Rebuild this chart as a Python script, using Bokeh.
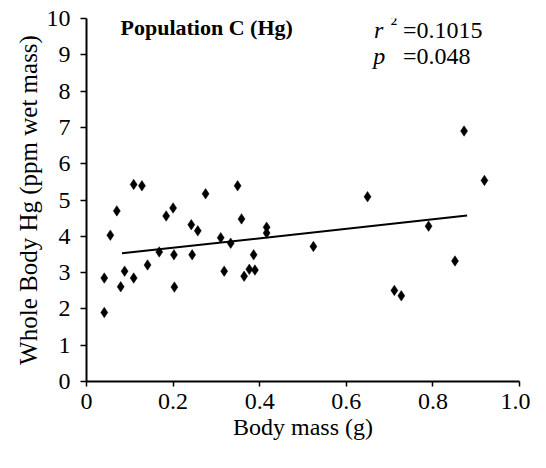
from bokeh.plotting import figure
from bokeh.models import Range1d, FixedTicker, Label
from bokeh.embed import file_html
from bokeh.resources import INLINE

# ---- data ----
body_mass = [0.041, 0.041, 0.055, 0.070, 0.079, 0.088, 0.109, 0.109, 0.128, 0.141,
             0.168, 0.184, 0.200, 0.202, 0.203, 0.242, 0.244, 0.257, 0.275, 0.310,
             0.318, 0.333, 0.349, 0.358, 0.364, 0.376, 0.386, 0.389, 0.416, 0.416,
             0.524, 0.649, 0.711, 0.727, 0.790, 0.851, 0.872, 0.919]
hg_ppm = [2.85, 1.90, 4.03, 4.70, 2.61, 3.04, 2.85, 5.43, 5.39, 3.21,
          3.57, 4.56, 4.78, 3.49, 2.60, 4.32, 3.49, 4.15, 5.17, 3.96,
          3.04, 3.81, 5.39, 4.48, 2.90, 3.09, 3.49, 3.07, 4.25, 4.09,
          3.72, 5.09, 2.51, 2.36, 4.28, 3.32, 6.90, 5.54]
trend_x = [0.082, 0.879]
trend_y = [3.53, 4.57]

x_ticks = [0, 0.2, 0.4, 0.6, 0.8, 1.0]
x_tick_labels = ["0", "0.2", "0.4", "0.6", "0.8", "1.0"]
y_ticks = [0, 1, 2, 3, 4, 5, 6, 7, 8, 9, 10]

title_text = "Population C (Hg)"
r2_text = "=0.1015"
p_text = "=0.048"

FONT = "Liberation Serif"

p = figure(width=530, height=452, output_backend="svg", toolbar_location=None,
           x_range=Range1d(0, 1.0), y_range=Range1d(0, 10),
           min_border_left=86, min_border_right=11, min_border_top=18,
           min_border_bottom=71)
p.outline_line_color = None
p.xgrid.grid_line_color = None
p.ygrid.grid_line_color = None
p.background_fill_color = "white"
p.border_fill_color = "white"

# axes
for ax in (p.xaxis, p.yaxis):
    ax.axis_line_color = "black"
    ax.axis_line_width = 2
    ax.major_tick_line_color = "black"
    ax.major_tick_line_width = 1.5
    ax.major_tick_in = 0
    ax.minor_tick_line_color = None
    ax.major_label_text_font = FONT
    ax.major_label_text_font_size = "24px"
    ax.major_label_text_color = "black"
    ax.axis_label_text_font = FONT
    ax.axis_label_text_font_style = "normal"
    ax.axis_label_text_color = "black"

p.xaxis.ticker = FixedTicker(ticks=x_ticks)
p.xaxis.major_label_overrides = {t: s for t, s in zip(x_ticks, x_tick_labels)}
p.xaxis.major_tick_out = 5
p.xaxis.major_label_standoff = 7
p.xaxis.axis_label = "Body mass (g)"
p.xaxis.axis_label_text_font_size = "24px"
p.xaxis.axis_label_standoff = 2

p.yaxis.ticker = FixedTicker(ticks=y_ticks)
p.yaxis.major_tick_out = 6
p.yaxis.major_label_standoff = 10
p.yaxis.axis_label = "Whole Body Hg (ppm wet mass)"
p.yaxis.axis_label_text_font_size = "25px"
p.yaxis.axis_label_standoff = 2

# data
p.scatter(body_mass, hg_ppm, marker="diamond", size=10.5,
          fill_color="black", line_color="black", line_width=0.5)
p.line(trend_x, trend_y, line_color="black", line_width=2)

# annotations
p.add_layout(Label(x=0.0785, y=9.75, text=title_text, text_font=FONT,
                   text_font_style="bold", text_font_size="22px",
                   text_color="black", text_baseline="alphabetic"))
p.add_layout(Label(x=0.664, y=9.68, text="r", text_font=FONT,
                   text_font_style="italic", text_font_size="24px",
                   text_color="black", text_baseline="alphabetic"))
p.add_layout(Label(x=0.702, y=9.86, text="\u00b2", text_font=FONT,
                   text_font_size="22px", text_color="black",
                   text_baseline="alphabetic"))
p.add_layout(Label(x=0.731, y=9.68, text=r2_text, text_font=FONT,
                   text_font_size="24px", text_color="black",
                   text_baseline="alphabetic"))
p.add_layout(Label(x=0.662, y=8.96, text="p", text_font=FONT,
                   text_font_style="italic", text_font_size="24px",
                   text_color="black", text_baseline="alphabetic"))
p.add_layout(Label(x=0.731, y=8.96, text=p_text, text_font=FONT,
                   text_font_size="24px", text_color="black",
                   text_baseline="alphabetic"))

open("out.html", "w").write(file_html(p, INLINE))
